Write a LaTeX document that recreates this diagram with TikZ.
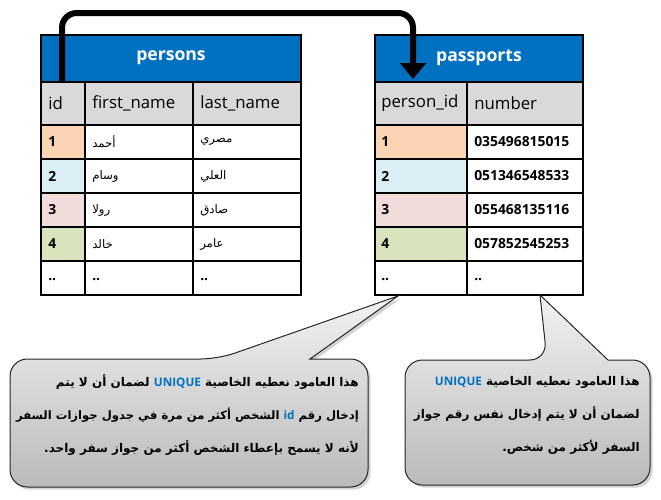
\documentclass[tikz,border=0pt]{standalone}
\usepackage{fontspec}
\setmainfont{Open Sans}
\newfontfamily\arabicfont[Script=Arabic]{DejaVu Sans}
\TeXXeTstate=1
\usetikzlibrary{arrows.meta,shadows}

\definecolor{headblue}{HTML}{0070C0}
\definecolor{rowgray}{HTML}{D9D9D9}
\definecolor{idorange}{HTML}{FBD4B4}
\definecolor{idblue}{HTML}{DAEEF3}
\definecolor{idpink}{HTML}{F2DCDB}
\definecolor{idgreen}{HTML}{D8E4BC}

\tikzset{
  x=0.75pt, y=-0.75pt,
  gridline/.style={line width=1.5pt},
  tabletitle/.style={font=\bfseries\fontsize{13.2}{16}\selectfont, text=white},
  colhead/.style={anchor=west, inner sep=0pt, font=\fontsize{12.6}{15}\selectfont},
  cell/.style={anchor=west, inner sep=0pt, font=\bfseries\fontsize{10.4}{12}\selectfont},
  arcell/.style={anchor=west, inner sep=0pt, font=\arabicfont\fontsize{8.8}{12}\selectfont},
  link/.style={line width=4.5pt, rounded corners=11pt, -{Triangle[width=19pt,length=12pt]}},
  note/.style={draw=black!85, line width=0.75pt, top color=black!5, bottom color=black!27,
    drop shadow={shadow xshift=2pt, shadow yshift=-2pt, opacity=0.35}},
  notetext/.style={anchor=east, align=right, inner sep=0pt,
    font=\arabicfont\bfseries\fontsize{9}{24.8}\selectfont},
}
\newcommand{\hilite}[1]{\beginL\textcolor{headblue}{\rmfamily\bfseries\fontsize{8.8}{10}\selectfont #1}\endL}

\begin{document}
\begin{tikzpicture}
  \useasboundingbox (0,0) rectangle (661,500);

  % persons table
  \fill[headblue] (41,35) rectangle (301,82);
  \fill[rowgray] (41,82) rectangle (301,125);
  \foreach \c [count=\i from 0] in {idorange,idblue,idpink,idgreen}
    \fill[\c] (41,125+34*\i) rectangle (85,159+34*\i);
  \draw[gridline] (41,35) rectangle (301,295);
  \foreach \y in {82,125,159,193,227,261}
    \draw[gridline] (41,\y) -- (301,\y);
  \draw[gridline] (85,82) -- (85,295);
  \draw[gridline] (193,82) -- (193,295);

  \node[tabletitle] (per-title) at (171,58) {persons};
  \node[colhead] (per-id) at (48,103) {id};
  \node[colhead] (per-first) at (92,103) {first\_name};
  \node[colhead] (per-last) at (200,103) {last\_name};
  \foreach \n/\f/\l [count=\i from 0] in {1/أحمد/مصري, 2/وسام/العلي, 3/رولا/صادق, 4/خالد/عامر} {
    \node[cell] (per-id-\n) at (48,142+34*\i) {\n};
    \node[arcell] (per-first-\n) at (92,142+34*\i) {\beginR\f\endR};
    \node[arcell] (per-last-\n) at (200,142+34*\i) {\beginR\l\endR};
  }
  \node[cell] (per-id-more) at (48,280) {..};
  \node[cell] (per-first-more) at (92,280) {..};
  \node[cell] (per-last-more) at (200,280) {..};

  % passports table
  \fill[headblue] (375,35) rectangle (583,82);
  \fill[rowgray] (375,82) rectangle (583,125);
  \foreach \c [count=\i from 0] in {idorange,idblue,idpink,idgreen}
    \fill[\c] (375,125+34*\i) rectangle (467,159+34*\i);
  \draw[gridline] (375,35) rectangle (583,295);
  \foreach \y in {82,125,159,193,227,261}
    \draw[gridline] (375,\y) -- (583,\y);
  \draw[gridline] (467,82) -- (467,295);

  \node[tabletitle] (pas-title) at (479,58) {passports};
  \node[colhead] (pas-pid) at (381,103) {person\_id};
  \node[colhead] (pas-number) at (474,103) {number};
  \foreach \n/\num [count=\i from 0] in {1/035496815015, 2/051346548533, 3/055468135116, 4/057852545253} {
    \node[cell] (pas-pid-\n) at (381,142+34*\i) {\n};
    \node[cell] (pas-number-\n) at (474,142+34*\i) {\num};
  }
  \node[cell] (pas-pid-more) at (381,280) {..};
  \node[cell] (pas-number-more) at (474,280) {..};

  % link id -> person_id
  \coordinate (per-link) at (62,82);
  \coordinate (pas-link) at (413,79);
  \coordinate (link-top) at (0,13);
  \draw[link] (per-link) -- (per-link |- link-top) -- (pas-link |- link-top) -- (pas-link);

  % notes
  \draw[note] (310,359) [rounded corners=13pt] -- (368,359) -- (368,487) -- (10,487)
    -- (10,359) -- (218,359) [sharp corners] -- (398,296) -- cycle;
  \node[notetext] (left-note) at (359,415) {%
    \beginR هذا العامود نعطيه الخاصية \hilite{UNIQUE} لضمان أن لا يتم\endR\\
    {\fontsize{8.7}{24.8}\selectfont\beginR إدخال رقم \hilite{id} الشخص أكثر من مرة في جدول جوازات السفر\endR}\\
    \beginR لأنه لا يسمح بإعطاء الشخص أكثر من جواز سفر واحد.\endR};

  \draw[note] (608,360) [rounded corners=13pt] -- (650,360) -- (650,485) -- (405,485)
    -- (405,360) -- (547,360) [sharp corners] -- (540,295) -- cycle;
  \node[notetext] (right-note) at (640,415) {%
    \beginR هذا العامود نعطيه الخاصية \hilite{UNIQUE}\endR\\
    \beginR لضمان أن لا يتم إدخال نفس رقم جواز\endR\\
    \beginR السفر لأكثر من شخص.\endR};
\end{tikzpicture}
\end{document}
